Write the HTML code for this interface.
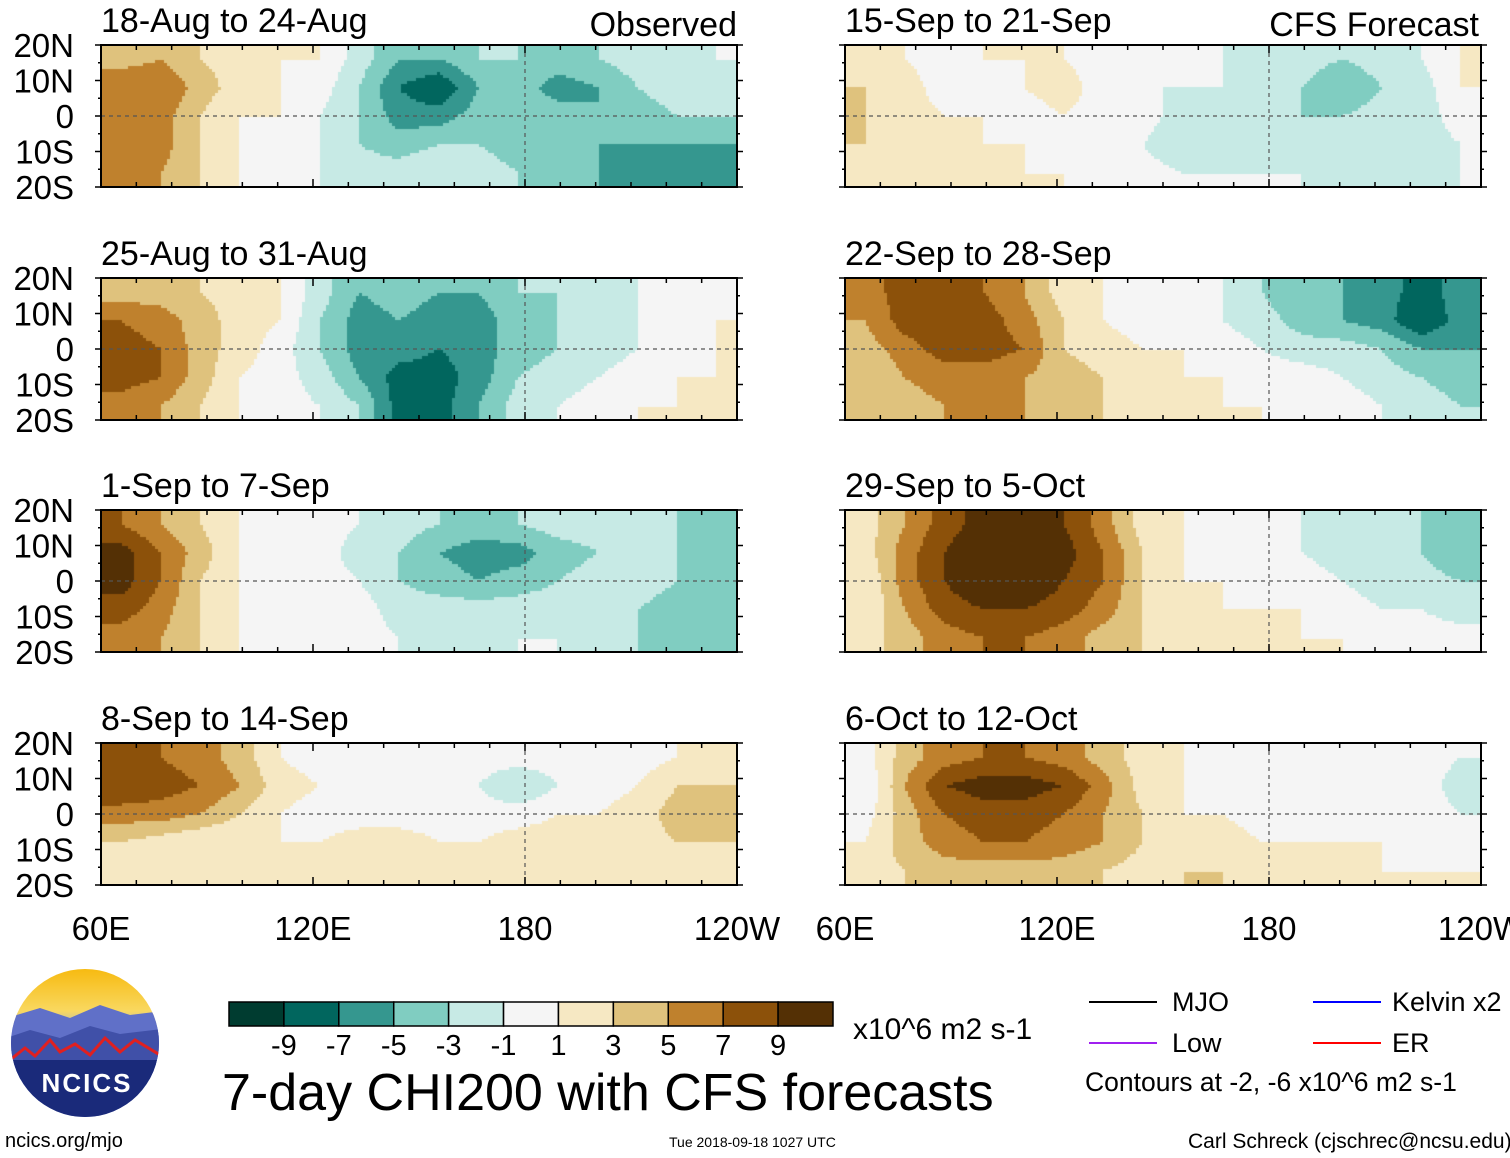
<!DOCTYPE html>
<html><head><meta charset="utf-8"><style>
body{margin:0;background:#fff;width:1510px;height:1158px;position:relative;overflow:hidden;font-family:"Liberation Sans",sans-serif;color:#000}
.t{position:absolute;white-space:nowrap;line-height:1}
canvas{position:absolute}
</style></head><body>
<svg id="ov" width="1510" height="1158" style="position:absolute;left:0;top:0"></svg>
<script>
const levels=[-9,-7,-5,-3,-1,1,3,5,7,9];
const colors=["#003c30","#01665e","#35978f","#80cdc1","#c7eae5","#f5f5f5","#f6e8c3","#dfc27d","#bf812d","#8c510a","#543005"];
const titles=["18-Aug to 24-Aug","25-Aug to 31-Aug","1-Sep to 7-Sep","8-Sep to 14-Sep","15-Sep to 21-Sep","22-Sep to 28-Sep","29-Sep to 5-Oct","6-Oct to 12-Oct"];
const latLabels=["20N","10N","0","10S","20S"];
const lonLabels=["60E","120E","180","120W"];
const cbLabels=["-9","-7","-5","-3","-1","1","3","5","7","9"];
const p1=[[4,5,3,2,1,1,-2,-5,-5,-3,-3,-4,-3,-2,-2,-1],[7,7,4,2,1,0,-3,-7,-9,-5,-4,-6,-5,-3,-2,-2],[6,6,3,1,1,-1,-3,-6,-6,-4,-3,-4,-5,-4,-3,-3],[7,6,3,1,0,-1,-3,-4,-3,-3,-4,-4,-5,-5,-5,-5],[6,5,3,1,0,-1,-2,-2,-1,-2,-3,-4,-5,-6,-7,-7]];
const p2=[[4,4,3,2,1,-2,-5,-4,-5,-5,-3,-3,-2,-1,0,0],[7,6,4,2,1,-3,-6,-5,-6,-6,-4,-3,-2,-1,0,1],[8,7,4,2,0,-3,-6,-6,-7,-6,-4,-3,-2,-1,0,1],[8,7,4,1,0,-2,-5,-8,-8,-6,-3,-2,-1,0,1,1],[6,5,3,1,0,-1,-3,-8,-8,-5,-2,-1,0,1,1,1]];
const p3=[[7,5,3,1,0,0,-1,-2,-3,-4,-3,-2,-2,-2,-3,-4],[10,7,4,1,0,0,-2,-3,-5,-6,-6,-4,-3,-2,-3,-4],[10,7,3,1,0,0,-1,-3,-4,-5,-4,-3,-2,-2,-3,-4],[8,6,3,1,0,0,0,-2,-2,-2,-2,-2,-2,-3,-4,-4],[6,5,3,1,0,0,0,-1,-2,-2,-1,-1,-2,-3,-4,-4]];
const p4=[[7,7,6,4,1,0,0,0,0,0,0,0,-1,0,1,2],[9,8,7,5,2,1,0,0,0,-1,-3,-1,0,1,3,3],[6,6,5,3,1,0,0,0,0,0,0,1,1,2,4,4],[3,2,1,1,1,1,2,2,1,1,2,2,1,2,3,3],[2,1,1,1,2,2,2,2,2,2,2,2,1,1,2,2]];
const p5=[[2,1,0,1,1,1,0,0,-1,-1,-2,-2,-3,-2,-1,1],[3,2,0,0,1,2,0,-1,-1,-1,-2,-3,-5,-3,-2,1],[3,2,1,1,0,1,0,0,-2,-2,-2,-3,-3,-2,-2,0],[3,2,1,1,1,0,0,-1,-3,-2,-2,-2,-2,-2,-2,-1],[2,1,1,1,1,1,0,0,-1,-1,-1,-1,-2,-2,-2,-1]];
const p6=[[6,8,9,7,5,2,1,0,0,-1,-3,-5,-5,-6,-8,-6],[5,8,9,8,6,3,1,0,0,-1,-2,-4,-5,-6,-9,-6],[4,6,8,8,7,3,2,1,1,0,-1,-2,-2,-3,-5,-5],[3,5,6,6,5,4,3,2,1,1,0,0,-1,-2,-3,-4],[3,4,5,5,5,4,3,2,1,1,1,0,0,-1,-2,-3]];
const p7=[[2,5,8,10,10,9,6,2,1,0,0,-1,-2,-2,-3,-5],[2,6,9,11,11,10,7,3,1,0,0,-1,-2,-2,-3,-5],[1,6,9,11,11,9,7,3,1,1,0,0,-1,-2,-2,-3],[1,5,8,9,9,8,6,3,2,1,1,1,0,-1,-1,-2],[2,4,6,7,7,6,4,3,2,1,1,1,1,0,0,0]];
const p8=[[0,4,6,7,7,6,4,2,1,0,0,0,0,0,0,-1],[-1,5,9,10,10,9,6,2,1,0,0,0,-1,0,0,-2],[0,4,7,8,8,7,5,3,1,1,0,0,0,0,0,-1],[1,4,6,7,7,6,5,3,2,2,1,1,1,1,0,0],[2,3,4,4,4,4,3,2,3,3,2,1,1,1,1,1]];
const panels=[p1,p2,p3,p4,p5,p6,p7,p8];
</script>
<div class="t" style="left:537px;width:200px;text-align:right;top:8px;font-size:34px">Observed</div>
<div class="t" style="left:1179px;width:300px;text-align:right;top:8px;font-size:34px">CFS Forecast</div>

<svg width="170" height="170" style="position:absolute;left:0;top:960px">
<defs><linearGradient id="sky" x1="0" y1="0" x2="0" y2="1"><stop offset="0" stop-color="#f6b400"/><stop offset="0.3" stop-color="#f9d860"/><stop offset="0.45" stop-color="#8fa8e0"/><stop offset="1" stop-color="#5060b8"/></linearGradient><clipPath id="cc"><circle cx="85" cy="83" r="74"/></clipPath></defs>
<g clip-path="url(#cc)"><rect x="0" y="0" width="170" height="170" fill="url(#sky)"/>
<path d="M0 60 L40 48 L70 58 L100 45 L130 55 L170 50 L170 100 L0 100Z" fill="#6070c8"/>
<path d="M0 80 L30 70 L60 78 L90 66 L120 74 L170 68 L170 120 L0 120Z" fill="#4050a8"/>
<path d="M10 100 L25 88 L35 96 L50 80 L60 92 L75 84 L90 95 L105 78 L120 92 L135 80 L160 95" stroke="#e02020" stroke-width="3" fill="none"/>
<rect x="0" y="100" width="170" height="70" fill="#1a2a7a"/></g>
<text x="87" y="132" font-size="26" font-weight="bold" fill="#fff" text-anchor="middle" font-family="Liberation Sans" letter-spacing="2">NCICS</text>
</svg>
<div class="t" style="left:5px;top:1131px;font-size:20px">ncics.org/mjo</div>
<div class="t" style="left:669px;top:1135px;font-size:14px">Tue 2018-09-18 1027 UTC</div>
<div class="t" style="left:1188px;top:1131px;font-size:21px">Carl Schreck (cjschrec@ncsu.edu)</div>
<div class="t" style="left:222px;top:1067px;font-size:52px">7-day CHI200 with CFS forecasts</div>
<div class="t" style="left:853px;top:1015px;font-size:30px">x10^6 m2 s-1</div>
<div class="t" style="left:1172px;top:989px;font-size:27px">MJO</div>
<div class="t" style="left:1392px;top:989px;font-size:27px">Kelvin x2</div>
<div class="t" style="left:1172px;top:1030px;font-size:27px">Low</div>
<div class="t" style="left:1392px;top:1030px;font-size:27px">ER</div>
<div class="t" style="left:1085px;top:1069px;font-size:26.5px">Contours at -2, -6 x10^6 m2 s-1</div>

<script>
const NS="http://www.w3.org/2000/svg";
const ov=document.getElementById('ov');
function el(tag,attrs,parent){const e=document.createElementNS(NS,tag);for(const k in attrs)e.setAttribute(k,attrs[k]);(parent||ov).appendChild(e);return e;}
function colorFor(v){let i=0;while(i<levels.length&&v>=levels[i])i++;return colors[i];}
const colX=[101,845],rowY=[45,278,510,743],PW=636,PH=142;
panels.forEach((data,pi)=>{
  const col=pi<4?0:1,row=pi%4;
  const x0=colX[col],y0=rowY[row];
  const cv=document.createElement('canvas');
  cv.width=PW;cv.height=PH;cv.style.left=x0+'px';cv.style.top=y0+'px';
  
  
  document.body.insertBefore(cv,ov);
  const ctx=cv.getContext('2d');
  const nx=data[0].length,ny=data.length,B=3;
  for(let py=0;py<PH;py+=B)for(let px=0;px<PW;px+=B){
    const fx=Math.min(Math.max((px+B/2)/PW*nx-0.5,0),nx-1),fy=Math.min(Math.max((py+B/2)/PH*ny-0.5,0),ny-1);
    const i0=Math.floor(fx),j0=Math.floor(fy),i1=Math.min(i0+1,nx-1),j1=Math.min(j0+1,ny-1),tx=fx-i0,ty=fy-j0;
    const v=(data[j0][i0]*(1-tx)+data[j0][i1]*tx)*(1-ty)+(data[j1][i0]*(1-tx)+data[j1][i1]*tx)*ty;
    ctx.fillStyle=colorFor(v);ctx.fillRect(px,py,B,B);
  }
  const g=el('g',{});
  
  
  el('line',{x1:x0,y1:y0+PH/2,x2:x0+PW,y2:y0+PH/2,stroke:'#555','stroke-dasharray':'4,4','stroke-width':1.2},g);
  el('line',{x1:x0+PW*2/3,y1:y0,x2:x0+PW*2/3,y2:y0+PH,stroke:'#555','stroke-dasharray':'4,4','stroke-width':1.2},g);
  el('rect',{x:x0,y:y0,width:PW,height:PH,fill:'none',stroke:'#000','stroke-width':2},g);
  for(let k=0;k<=18;k++){const tx=x0+PW*k/18,len=k%6==0?8:5;
    el('line',{x1:tx,y1:y0,x2:tx,y2:y0+len,stroke:'#000','stroke-width':1.5},g);
    el('line',{x1:tx,y1:y0+PH,x2:tx,y2:y0+PH-len,stroke:'#000','stroke-width':1.5},g);}
  for(let k=0;k<=8;k++){const ty=y0+PH*k/8;
    el('line',{x1:x0,y1:ty,x2:x0-(k%2==0?6:3),y2:ty,stroke:'#000','stroke-width':1.5},g);
    el('line',{x1:x0+PW,y1:ty,x2:x0+PW+(k%2==0?6:3),y2:ty,stroke:'#000','stroke-width':1.5},g);}
  const t=el('text',{x:x0,y:y0-13,'font-size':34,'font-family':'Liberation Sans'},g);t.textContent=titles[pi];
  
  if(col==0)latLabels.forEach((l,k)=>{const lt=el('text',{x:74,y:y0+PH*k/4+12,'font-size':33,'text-anchor':'end','font-family':'Liberation Sans'});lt.textContent=l;
    });
});
[0,1].forEach(c=>lonLabels.forEach((l,k)=>{const lt=el('text',{x:colX[c]+PW*k/3,y:940,'font-size':33,'text-anchor':'middle','font-family':'Liberation Sans'});lt.textContent=l;
  }));
const cbX=229,cbW=604/11;
colors.forEach((c,i)=>{const r=el('rect',{x:cbX+i*cbW,y:1002,width:cbW,height:24,fill:c,stroke:'#000','stroke-width':1.5});
  });
cbLabels.forEach((l,i)=>{const lt=el('text',{x:cbX+(i+1)*cbW,y:1055,'font-size':29,'text-anchor':'middle','font-family':'Liberation Sans'});lt.textContent=l;
  });
[[1089,1002,'#000'],[1313,1002,'#0000ff'],[1089,1043,'#a020f0'],[1313,1043,'#ff0000']].forEach(a=>{
  const ln=el('line',{x1:a[0],y1:a[1],x2:a[0]+68,y2:a[1],stroke:a[2],'stroke-width':2});
  });
</script>
</body></html>
